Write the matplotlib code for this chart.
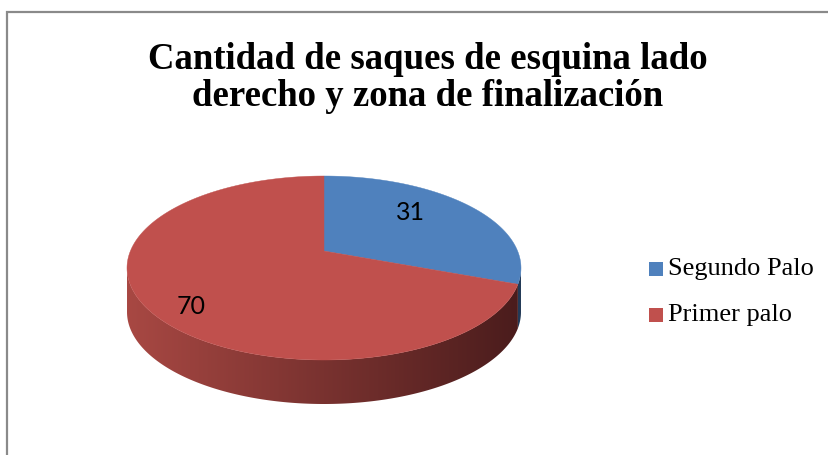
import numpy as np
import matplotlib
matplotlib.use("Agg")
import matplotlib.pyplot as plt
from matplotlib.patches import Polygon, Rectangle
from matplotlib.colors import LinearSegmentedColormap

# ---- data ----
title = "Cantidad de saques de esquina lado\nderecho y zona de finalización"
categories = ["Segundo Palo", "Primer palo"]
values = [31, 70]
top_colors = ["#4F81BD", "#C0504D"]
side_colors = [("#3a5f8c", "#233a57"), ("#a84843", "#4a1c1c")]
label_radius = [0.674, 0.8325]
label_shift_deg = [-9.5, -7.5]

# ---- geometry (pixel space) ----
W, H = 829, 455
cx, cy = 324, 251          # projected centre of pie
A, P, q = 193.6, 88.86, -0.1848   # perspective ellipse params
depth = 44

def proj(r, t):
    X = r * np.sin(t)
    Z = -r * np.cos(t)
    d = 1 + q * Z
    return cx + A * X / d, cy + P * Z / d

fig = plt.figure(figsize=(W / 100, H / 100), dpi=100)
ax = fig.add_axes([0, 0, 1, 1])
ax.set_xlim(0, W)
ax.set_ylim(H, 0)
ax.axis("off")

# frame (left + top lines)
ax.plot([7, 7, W + 5], [H + 5, 12, 12], color="#8a8a8a", lw=1.6,
        solid_joinstyle="miter", zorder=1)

total = sum(values)
bounds = np.concatenate([[0], np.cumsum(values)]) / total * 2 * np.pi

t_r = np.arccos(q)          # right widest point
t_l = 2 * np.pi - t_r       # left widest point

# sides
for i in range(len(values)):
    a0, a1 = bounds[i], bounds[i + 1]
    s0, s1 = max(a0, t_r), min(a1, t_l)
    if s1 <= s0:
        continue
    ts = np.linspace(s0, s1, 200)
    xs, ys = proj(1.0, ts)
    poly_x = np.concatenate([xs, xs[::-1]])
    poly_y = np.concatenate([ys, ys[::-1] + depth])
    poly = Polygon(np.column_stack([poly_x, poly_y]), closed=True,
                   facecolor="none", edgecolor="none")
    ax.add_patch(poly)
    cmap = LinearSegmentedColormap.from_list("g", [side_colors[i][0], side_colors[i][1]])
    xl, xr = proj(1.0, t_l)[0], proj(1.0, t_r)[0]
    im = ax.imshow(np.linspace(0, 1, 256)[None, :], cmap=cmap, aspect="auto",
                   extent=[xl, xr, max(poly_y) + 2, min(poly_y) - 2],
                   interpolation="bilinear", zorder=2)
    im.set_clip_path(poly)

# top faces
for i in range(len(values)):
    ts = np.linspace(bounds[i], bounds[i + 1], 300)
    xs, ys = proj(1.0, ts)
    pts = np.column_stack([np.concatenate([[cx], xs]), np.concatenate([[cy], ys])])
    ax.add_patch(Polygon(pts, closed=True, facecolor=top_colors[i],
                         edgecolor=top_colors[i], lw=0.3, zorder=3))

# data labels
for i, v in enumerate(values):
    mid = (bounds[i] + bounds[i + 1]) / 2 + np.deg2rad(label_shift_deg[i])
    x, y = proj(label_radius[i], mid)
    ax.text(x, y, str(v), ha="center", va="center", fontsize=18,
            family=["Lato", "DejaVu Sans"], color="black", zorder=4)

# title
fig.text(428 / W, 1 - 78 / H, title, ha="center", va="center",
         fontsize=26.5, fontweight="bold", family="Liberation Serif",
         linespacing=1.05)

# legend
for i, name in enumerate(categories):
    ly = 269 + i * 46
    ax.add_patch(Rectangle((649, ly - 7), 14, 14, facecolor=top_colors[i],
                           edgecolor="none"))
    ax.text(668, ly, name, ha="left", va="center", fontsize=19,
            family="Liberation Serif")

fig.savefig("out.png", dpi=100)
